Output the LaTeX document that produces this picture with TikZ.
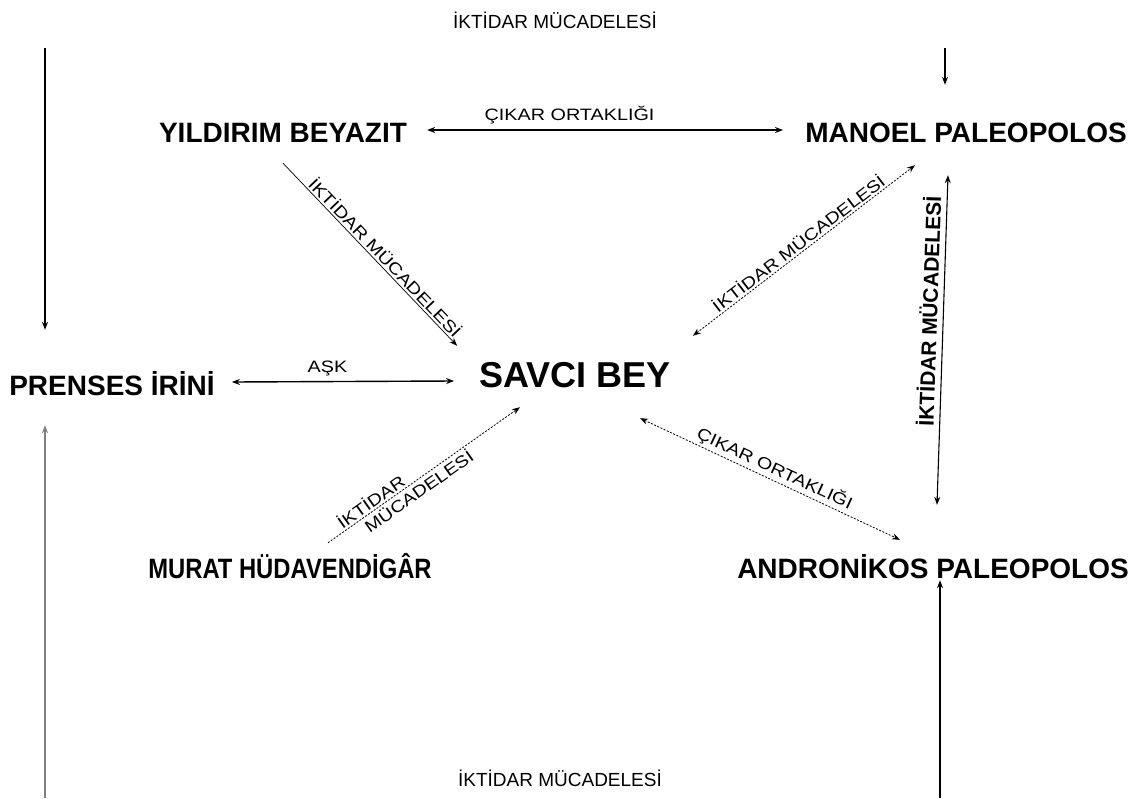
\documentclass[tikz,border=0pt]{standalone}
\usepackage{fontspec}
\usepackage{graphicx}
\setmainfont{Liberation Sans}
\usetikzlibrary{arrows.meta}
\newcommand{\wide}[1]{\scalebox{1.2}[1]{#1}}

\begin{document}
\begin{tikzpicture}[x=1pt, y=-1pt, >={Stealth[length=8pt,width=6pt]},
    person/.style={inner sep=0pt, text height=20pt, text depth=0pt, font=\fontsize{28}{28}\selectfont\bfseries},
    lbl/.style={inner sep=2pt, font=\fontsize{16.5}{19}\selectfont},
    toplbl/.style={inner sep=0pt, font=\fontsize{19}{19}\selectfont},
    rel/.style={line width=1.4pt},
    thinrel/.style={line width=0.7pt},
    dotrel/.style={line width=0.8pt, dash pattern=on 2pt off 1.5pt},
    frame/.style={line width=1.1pt}]
    \useasboundingbox (0,0) rectangle (1143,798);

    % --- Kişiler ---
    \node[person] (yb) at (283,132) {YILDIRIM BEYAZIT};
    \node[person] (mp) at (966,132) {MANOEL PALEOPOLOS};
    \node[person] (pi) at (112,385) {PRENSES İRİNİ};
    \node[person, text height=26pt, font=\fontsize{36}{36}\selectfont\bfseries] (sb) at (575,374) {SAVCI BEY};
    \node[person] (mh) at (290,568) {\scalebox{0.85}[1]{MURAT HÜDAVENDİGÂR}};
    \node[person] (ap) at (933,568) {ANDRONİKOS PALEOPOLOS};

    % --- Üst ve alt başlıklar ---
    \node[toplbl] (ttop) at (555,20) {İKTİDAR MÜCADELESİ};
    \node[toplbl] (tbot) at (560,778) {İKTİDAR MÜCADELESİ};

    % --- Çerçeve okları ---
    \coordinate (tl) at (45,48);
    \coordinate (bl) at (45,798);
    \coordinate (tr) at (945,48);
    \coordinate (br) at (940,798);
    \draw[frame, ->, shorten >=45pt] (tl) -- (tl |- pi.north);
    \draw[frame, ->, gray, shorten >=30pt] (bl) -- (bl |- pi.south);
    \draw[frame, ->, shorten >=37pt] (tr) -- (tr |- mp.north);
    \draw[frame, ->, shorten >=2pt] (br) -- (br |- ap.south);

    % --- İlişkiler ---
    \draw[rel, <->] ([shift={(20,-2)}]yb.east) -- ([shift={(-22,-2)}]mp.west)
        node[lbl, pos=0.4, above=3pt] {\wide{ÇIKAR ORTAKLIĞI}};
    \draw[rel, <->] ([shift={(17,-3)}]pi.east) -- ([shift={(-25,7)}]sb.west)
        node[lbl, pos=0.43, above=3pt] {\wide{AŞK}};
    \draw[thinrel, ->] ([shift={(0,21)}]yb.south) -- ([shift={(-22,-15)}]sb.north west)
        node[lbl, pos=0.55, sloped, above] {\wide{İKTİDAR MÜCADELESİ}};
    \draw[dotrel, <->] ([shift={(22,-25)}]sb.north east) -- ([shift={(-51,23)}]mp.south)
        node[lbl, midway, sloped, above] {\wide{İKTİDAR MÜCADELESİ}};
    \draw[frame, <->] ([shift={(4,-53)}]ap.north) -- ([shift={(-18,33)}]mp.south)
        node[pos=0.585, sloped, above=2pt, font=\fontsize{21}{21}\selectfont\bfseries] {İKTİDAR MÜCADELESİ};
    \draw[dotrel, ->] ([shift={(38,-15)}]mh.north) -- ([shift={(-55,20)}]sb.south)
        node[lbl, pos=0.4, sloped, align=left] {\wide{İKTİDAR}\\\hspace{1.2em}\wide{MÜCADELESİ}};
    \draw[dotrel, <->] ([shift={(65,31)}]sb.south) -- ([shift={(-33,-18)}]ap.north)
        node[lbl, midway, sloped, above] {\wide{ÇIKAR ORTAKLIĞI}};
\end{tikzpicture}
\end{document}
